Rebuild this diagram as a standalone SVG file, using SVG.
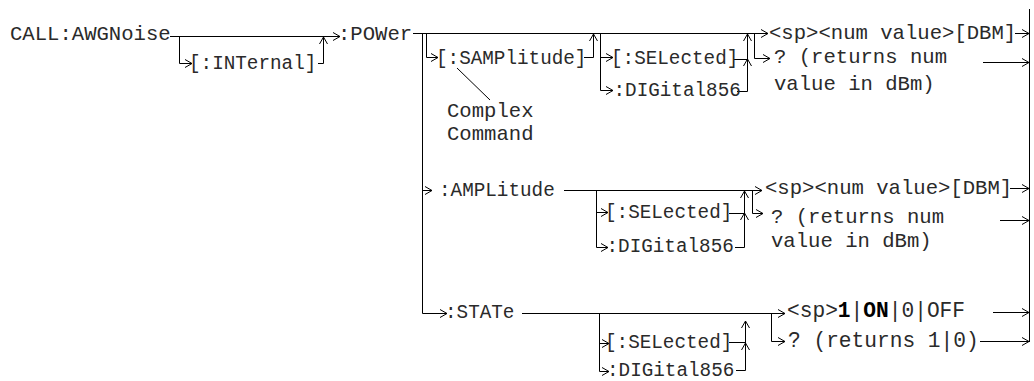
<svg xmlns="http://www.w3.org/2000/svg" width="1034" height="381" viewBox="0 0 1034 381">
<defs>
<style>
.t{font-family:'Liberation Mono','Courier New',monospace;font-size:19.3px;fill:#2a2a2a}
.tl{font-size:20.6px}
.tx{font-size:21.2px}
.b{font-weight:bold;fill:#000}
.ln{stroke:#000;stroke-width:1;fill:none}
.ar{marker-end:url(#ah)}
</style>
<marker id="ah" markerWidth="10" markerHeight="10" refX="8" refY="5" orient="auto" markerUnits="userSpaceOnUse">
<path d="M1,1 L8,5 L1,9" fill="none" stroke="#000" stroke-width="1"/>
</marker>
</defs>
<rect width="1034" height="381" fill="#fff"/>
<g id="connectors">
<path class="ln ar" d="M170,36.5 H340"/>
<path class="ln ar" d="M179.5,36.5 V63.5 H192"/>
<path class="ln ar" d="M318,63.5 H323.5 V37"/>
<path class="ln ar" d="M413,33.5 H768"/>
<path class="ln ar" d="M422.5,33.5 V313.5 H447"/>
<path class="ln ar" d="M426.5,33.5 V57.5 H438"/>
<path class="ln ar" d="M584,57.5 H593.5 V34"/>
<path class="ln ar" d="M600.5,33.5 V90.5 H613"/>
<path class="ln ar" d="M600.5,57.5 H613"/>
<path class="ln" d="M734,59.5 H747.5"/>
<path class="ln" d="M737,91.5 H747.5"/>
<path class="ln ar" d="M747.5,91.5 V59"/>
<path class="ln ar" d="M747.5,59 V34"/>
<path class="ln ar" d="M754.5,33.5 V58.5 H770"/>
<path class="ln ar" d="M1015,33.5 H1029"/>
<path class="ln ar" d="M983,62.5 H1029"/>
<path class="ln" d="M457,68 L490,100"/>
<path class="ln ar" d="M422.5,190.5 H432"/>
<path class="ln ar" d="M564,190.5 H762"/>
<path class="ln ar" d="M596.5,190.5 V247.5 H608"/>
<path class="ln ar" d="M596.5,212.5 H608"/>
<path class="ln" d="M729,213.5 H744.5"/>
<path class="ln" d="M735,247.5 H744.5"/>
<path class="ln ar" d="M744.5,247.5 V213"/>
<path class="ln ar" d="M744.5,213 V191"/>
<path class="ln ar" d="M752.5,190.5 V213.5 H763"/>
<path class="ln ar" d="M1010,188.5 H1029"/>
<path class="ln ar" d="M1000,220.5 H1029"/>
<path class="ln ar" d="M522,313.5 H785"/>
<path class="ln ar" d="M599.5,313.5 V371.5 H609"/>
<path class="ln ar" d="M599.5,343.5 H609"/>
<path class="ln" d="M729,342.5 H745.5"/>
<path class="ln" d="M736,370.5 H745.5"/>
<path class="ln ar" d="M745.5,370.5 V343"/>
<path class="ln ar" d="M745.5,343 V321"/>
<path class="ln ar" d="M771.5,313.5 V341.5 H785"/>
<path class="ln ar" d="M993,312.5 H1029"/>
<path class="ln ar" d="M980,341.5 H1029"/>
<path class="ln" d="M1029.5,9 V342"/>
</g>
<g id="n-call"><text class="t tl" x="10" y="40">CALL:AWGNoise</text></g>
<g id="n-internal"><text class="t" x="189" y="68.5">[:INTernal]</text></g>
<g id="n-power"><text class="t tl" x="338" y="40">:POWer</text></g>
<g id="n-samplitude"><text class="t" x="436" y="63.5">[:SAMPlitude]</text></g>
<g id="n-complex"><text class="t tl" x="447" y="117">Complex</text><text class="t tl" x="447" y="140">Command</text></g>
<g id="n-sel1"><text class="t" x="611" y="63.5">[:SELected]</text></g>
<g id="n-dig1"><text class="t" x="613.5" y="96">:DIGital856</text></g>
<g id="n-dbm1"><text class="t tl" x="769" y="38.5">&lt;sp&gt;&lt;num value&gt;[DBM]</text></g>
<g id="n-q1"><text class="t tl" x="774" y="63">? (returns num</text><text class="t tl" x="774" y="89.5">value in dBm)</text></g>
<g id="n-amplitude"><text class="t" x="439" y="196">:AMPLitude</text></g>
<g id="n-sel2"><text class="t" x="605" y="218">[:SELected]</text></g>
<g id="n-dig2"><text class="t" x="606.5" y="252">:DIGital856</text></g>
<g id="n-dbm2"><text class="t tl" x="765" y="194">&lt;sp&gt;&lt;num value&gt;[DBM]</text></g>
<g id="n-q2"><text class="t tl" x="771" y="223">? (returns num</text><text class="t tl" x="771" y="247">value in dBm)</text></g>
<g id="n-state"><text class="t" x="445" y="318">:STATe</text></g>
<g id="n-sel3"><text class="t" x="605" y="348">[:SELected]</text></g>
<g id="n-dig3"><text class="t" x="607" y="376">:DIGital856</text></g>
<g id="n-onoff"><text class="t tx" x="787" y="317">&lt;sp&gt;<tspan class="b">1</tspan>|<tspan class="b">ON</tspan>|0|OFF</text></g>
<g id="n-q3"><text class="t tx" x="788" y="346.5">? (returns 1|0)</text></g>
</svg>
